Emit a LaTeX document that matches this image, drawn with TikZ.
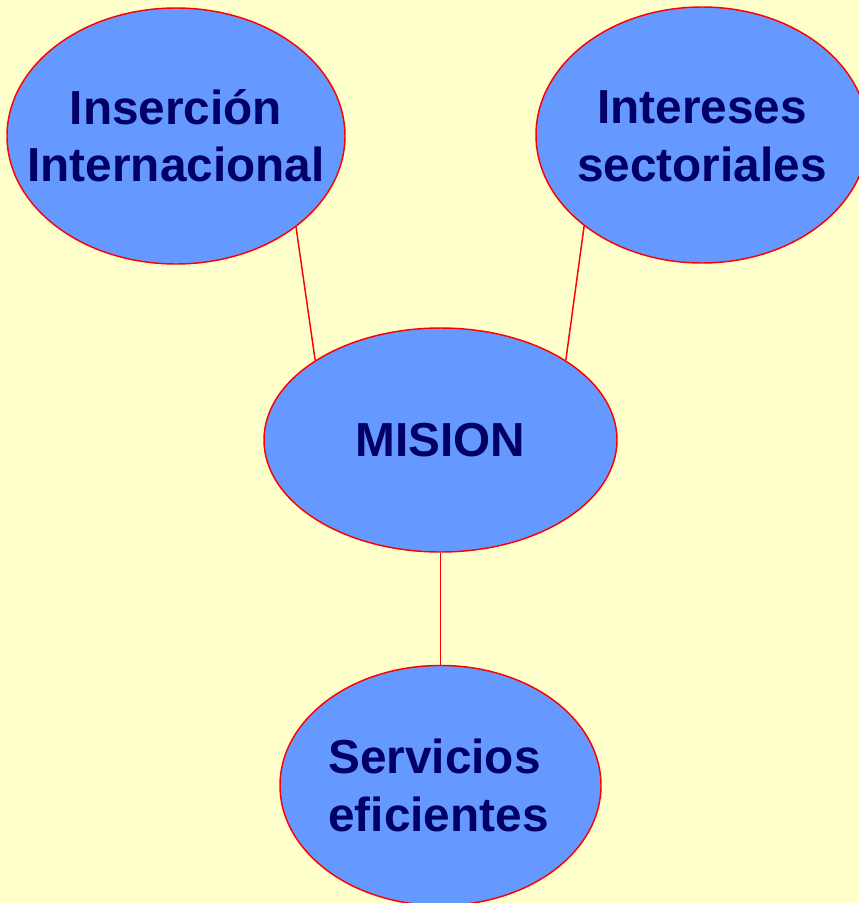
\documentclass[tikz,border=0pt]{standalone}
\usepackage{fontspec}
\setmainfont{Liberation Sans}
\usetikzlibrary{shapes.geometric, positioning}
\definecolor{paperColor}{RGB}{255, 255, 204}
\definecolor{bubbleColor}{RGB}{102, 153, 255}
\definecolor{textColor}{RGB}{0, 0, 102}
\tikzstyle{bubble} = [ellipse, inner sep=0pt, draw=red, line width=1.1pt, fill=bubbleColor]
\tikzstyle{txt} = [inner sep=0pt, align=center, text=textColor, font=\fontsize{35.8}{43}\selectfont\bfseries]
\tikzstyle{link} = [draw=red, line width=1.1pt]

\begin{document}
\begin{tikzpicture}[x=0.75pt, y=-0.75pt, node distance=84pt]
			\fill[paperColor] (0,0) rectangle (859,903);
			\useasboundingbox (0,0) rectangle (859,903);
			
			\node (ins) [bubble, minimum width=253.5pt, minimum height=192pt] at (176,136) {};
			\node (int) [bubble, minimum width=249pt, minimum height=192pt] at (702,135) {};
			\node (mis) [bubble, minimum width=264.75pt, minimum height=168pt] at (440.5,440) {};
			\node (serv) [bubble, minimum width=240.75pt, minimum height=180pt, below=of mis] {};
			
			\node (instxt) [txt] at (ins) {Inserción\\Internacional};
			\node (inttxt) [txt, yshift=-1pt] at (int) {Intereses\\sectoriales};
			\node (mistxt) [txt] at (mis) {MISION};
			\node (servtxt) [txt, align=left, xshift=-1.5pt] at (serv) {Servicios\\eficientes};
			
			\draw[link] (ins.south east) -- (mis.north west);
			\draw[link] (int.south west) -- (mis.north east);
			\draw[link] (mis) -- (serv);
\end{tikzpicture}
\end{document}
